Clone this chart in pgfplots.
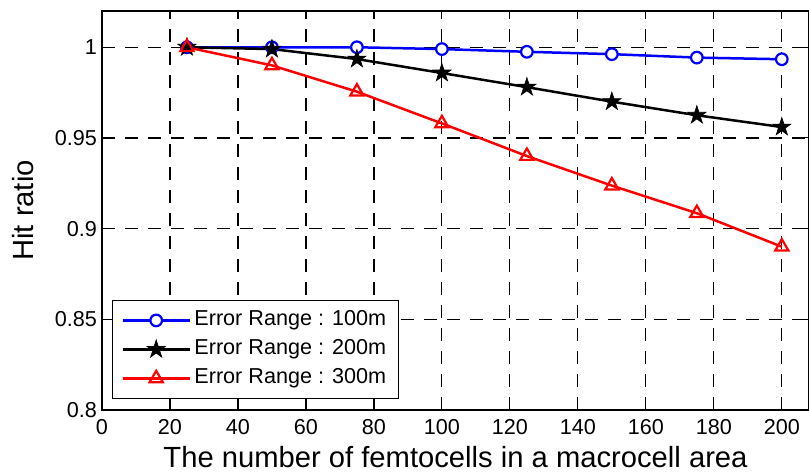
\documentclass[border=0pt]{standalone}
\usepackage{pgfplots}
\pgfplotsset{compat=1.18}
\usepackage{fontspec}
\setmainfont{Liberation Sans}
\pgfdeclareplotmark{pentagram}{%
  \pgfpathmoveto{\pgfpointpolar{90}{\pgfplotmarksize}}%
  \pgfpathlineto{\pgfpointpolar{126}{0.382\pgfplotmarksize}}%
  \pgfpathlineto{\pgfpointpolar{162}{\pgfplotmarksize}}%
  \pgfpathlineto{\pgfpointpolar{198}{0.382\pgfplotmarksize}}%
  \pgfpathlineto{\pgfpointpolar{234}{\pgfplotmarksize}}%
  \pgfpathlineto{\pgfpointpolar{270}{0.382\pgfplotmarksize}}%
  \pgfpathlineto{\pgfpointpolar{306}{\pgfplotmarksize}}%
  \pgfpathlineto{\pgfpointpolar{342}{0.382\pgfplotmarksize}}%
  \pgfpathlineto{\pgfpointpolar{18}{\pgfplotmarksize}}%
  \pgfpathlineto{\pgfpointpolar{54}{0.382\pgfplotmarksize}}%
  \pgfpathclose
  \pgfusepathqfillstroke
}
\begin{document}
\begin{tikzpicture}
\begin{axis}[
  scale only axis, width=353.6pt, height=199.5pt,
  xmin=0, xmax=208, ymin=0.8, ymax=1.02,
  xtick={0,20,...,200}, ytick={0.8,0.85,0.9,0.95,1},
  tick align=inside, tick pos=both, major tick length=2.5pt,
  grid=major,
  major grid style={black, dash pattern=on 6.5pt off 5pt, line width=0.6pt},
  axis line style={black, line width=0.6pt},
  every tick/.style={black, line width=0.5pt},
  /pgf/number format/assume math mode=true,
  tick label style={font=\fontsize{10.8}{13}\selectfont, black},
  yticklabel style={/pgf/number format/fixed, /pgf/number format/precision=2, xshift=1pt},
  xticklabel style={yshift=-1.4pt},
  xlabel={The number of femtocells in a macrocell area},
  ylabel={Hit ratio},
  label style={font=\fontsize{14.6}{17}\selectfont},
  xlabel style={at={(axis description cs:0.5,0)}, anchor=base, yshift=-29pt},
  ylabel style={at={(axis description cs:-0.0962,0.5)}, anchor=base},
  legend style={at={(axis description cs:0,0)}, anchor=south west, xshift=5pt, yshift=5.5pt,
    draw=black, line width=0.5pt, fill=white,
    font=\fontsize{10.8}{13}\selectfont,
    inner xsep=4.5pt, inner ysep=2.75pt, row sep=0pt,
    nodes={inner xsep=1.75pt, inner ysep=2.35pt, text height=7.6pt, text depth=2.2pt},
    cells={anchor=west},
    legend image code/.code={\draw[mark repeat=2,mark phase=2,##1] plot coordinates {(0pt,0pt)(16.75pt,0pt)(33.5pt,0pt)};}},
]
\coordinate (bl) at (rel axis cs:0,0);
\coordinate (tr) at (rel axis cs:1,1);
\addplot[blue, line width=1.25pt, mark=*, mark size=2.9pt, mark options={fill=white, line width=1.1pt}] coordinates {
(25,1.0) (50,1.0) (75,1.0) (100,0.999) (125,0.9975) (150,0.9962) (175,0.9943) (200,0.9934)};
\addlegendentry{Error Range : 100m}
\addplot[black, line width=1.25pt, mark=pentagram, mark size=4.8pt, mark options={fill=black, line width=0.3pt}] coordinates {
(25,1.0) (50,0.999) (75,0.9935) (100,0.9858) (125,0.978) (150,0.970) (175,0.9625) (200,0.956)};
\addlegendentry{Error Range : 200m}
\addplot[red, line width=1.25pt, mark=triangle, mark size=3.8pt, mark options={line width=1.1pt}] coordinates {
(25,1.0) (50,0.990) (75,0.9755) (100,0.958) (125,0.940) (150,0.9237) (175,0.9085) (200,0.890)};
\addlegendentry{Error Range : 300m}
\end{axis}
\pgfresetboundingbox
\path ([shift={(-51pt,-31.5pt)}]bl) rectangle ([shift={(0pt,5.5pt)}]tr);
\end{tikzpicture}
\end{document}
